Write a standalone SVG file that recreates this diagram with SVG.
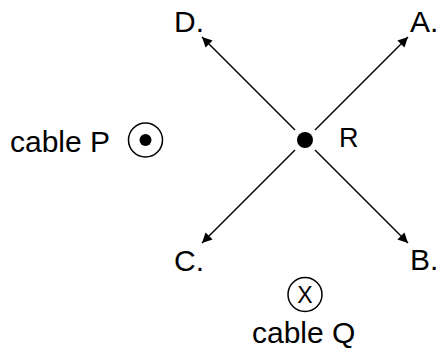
<svg xmlns="http://www.w3.org/2000/svg" width="439" height="349" viewBox="0 0 439 349">
<defs>
<style>
text{font-family:"Liberation Sans",Arial,sans-serif;font-size:30px;fill:#000}
.ln{stroke:#000;stroke-width:1.5;fill:none}
.ring{stroke:#000;stroke-width:1.5;fill:#fff}
</style>
<marker id="ah" viewBox="0 0 10 10" refX="10" refY="5" markerWidth="13" markerHeight="10" markerUnits="userSpaceOnUse" orient="auto">
<path d="M0,0 L10,5 L0,10 Z" fill="#000"/>
</marker>
</defs>
<rect width="439" height="349" fill="#fff"/>
<g id="connectors">
<line class="ln" x1="295" y1="130" x2="202" y2="37" marker-end="url(#ah)"/>
<line class="ln" x1="315" y1="130" x2="408" y2="37" marker-end="url(#ah)"/>
<line class="ln" x1="295" y1="150" x2="202" y2="243" marker-end="url(#ah)"/>
<line class="ln" x1="315" y1="150" x2="408" y2="243" marker-end="url(#ah)"/>
</g>
<g id="R">
<circle cx="305" cy="140" r="8" fill="#000"/>
<text x="339" y="147" style="font-size:27px">R</text>
</g>
<g id="D"><text x="174" y="32">D.</text></g>
<g id="A"><text x="410" y="32">A.</text></g>
<g id="C"><text x="174" y="271">C.</text></g>
<g id="B"><text x="410" y="270">B.</text></g>
<g id="cableP">
<text x="10" y="152">cable P</text>
<circle class="ring" cx="145.5" cy="140" r="17"/>
<circle cx="145.5" cy="140" r="6" fill="#000"/>
</g>
<g id="cableQ">
<circle class="ring" cx="305" cy="294.5" r="17"/>
<text x="305" y="303" text-anchor="middle" style="font-size:23px">X</text>
<text x="252" y="343">cable Q</text>
</g>
</svg>
